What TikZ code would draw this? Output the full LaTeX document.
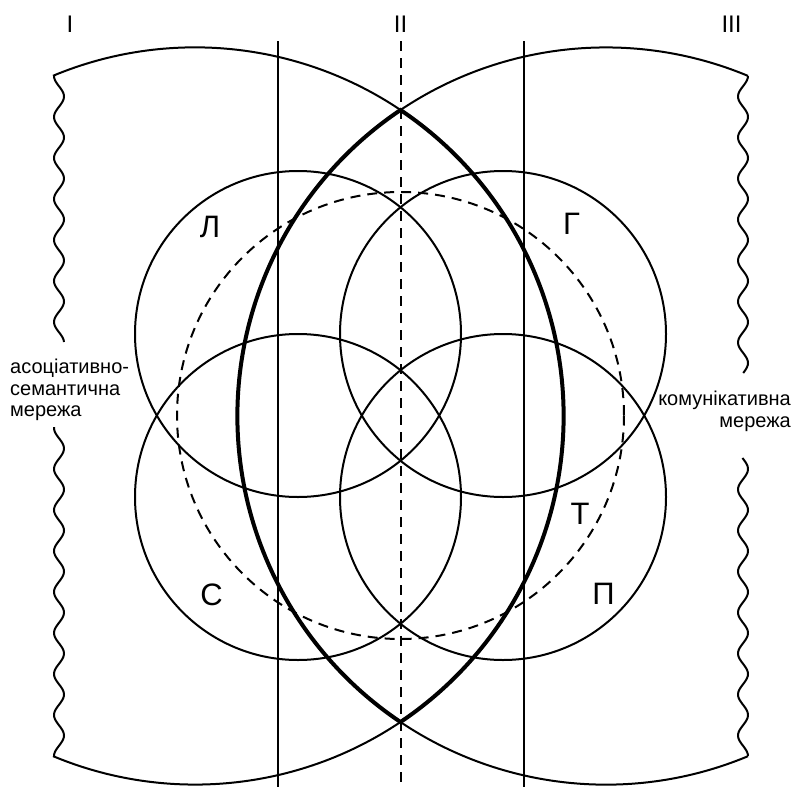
\documentclass[tikz,border=0pt]{standalone}
\usepackage{fontspec}
\setmainfont{Liberation Sans}
\begin{document}
\begin{tikzpicture}[x=1pt,y=-1pt,
  thinline/.style={line width=2pt},
  thickline/.style={line width=4pt},
  dashline/.style={line width=2pt,dash pattern=on 10pt off 7pt},
  zonelabel/.style={inner sep=0pt,font=\fontsize{24}{28}\selectfont},
  biglabel/.style={inner sep=0pt,font=\fontsize{31}{36}\selectfont},
  nettext/.style={inner sep=0pt,font=\fontsize{20}{21.7}\selectfont}]
\useasboundingbox (0,0) rectangle (795,787);
% centres
\coordinate (BL) at (195,416);
\coordinate (BR) at (606,416);
\coordinate (cL) at (298,334);
\coordinate (cG) at (503,334);
\coordinate (cS) at (298,497);
\coordinate (cP) at (503,497);
\coordinate (cD) at (400.5,415.5);
% vertical lines
\coordinate (v1t) at (278,41);  \coordinate (v1b) at (278,787);
\coordinate (v2t) at (524,41);  \coordinate (v2b) at (524,787);
\coordinate (v3t) at (400.5,41);\coordinate (v3b) at (400.5,787);
\draw[thinline] (v1t) -- (v1b);
\draw[thinline] (v2t) -- (v2b);
\draw[dashline] (v3t) -- (v3b);
% small circles
\draw[thinline] (cL) circle[radius=163];
\draw[thinline] (cG) circle[radius=163];
\draw[thinline] (cS) circle[radius=163];
\draw[thinline] (cP) circle[radius=163];
% dashed circle
\draw[dashline] (cD) circle[radius=223.5];
% big circles, thin outer parts
\coordinate (tipT) at (400.5,110);
\coordinate (tipB) at (400.5,722);
\draw[thinline] (53,75.8) arc[start angle=-112.66, end angle=-56.12, radius=368.6];
\draw[thinline] (tipB) arc[start angle=56.12, end angle=112.66, radius=368.6];
\draw[thinline] (tipT) arc[start angle=-123.88, end angle=-67.34, radius=368.6];
\draw[thinline] (748,756.2) arc[start angle=67.34, end angle=123.88, radius=368.6];
% lens
\draw[thickline] (tipT) arc[start angle=-56.12, end angle=56.12, radius=368.6]
  arc[start angle=123.88, end angle=236.12, radius=368.6] -- cycle;
% wavy borders
\draw[thinline] plot[samples=140, domain=76:342, variable=\t] ({59-5*cos(((\t-76)/41)*360)}, \t);
\draw[thinline] plot[samples=160, domain=427:756, variable=\t] ({59-5*cos(((756-\t)/41)*360)}, \t);
\draw[thinline] plot[samples=150, domain=76:373, variable=\t] ({743+5*cos(((\t-76)/41)*360)}, \t);
\draw[thinline] plot[samples=150, domain=458:756, variable=\t] ({743+5*cos(((756-\t)/41)*360)}, \t);
% labels
\node[zonelabel] (n1) at (70,24.5) {I};
\node[zonelabel] (n2) at (400.5,24.5) {II};
\node[zonelabel] (n3) at (731.5,24.5) {III};
\node[biglabel] (lL) at (210,227) {Л};
\node[biglabel] (lG) at (571.5,224) {Г};
\node[biglabel] (lS) at (211.5,594.5) {С};
\node[biglabel] (lT) at (580,513.5) {Т};
\node[biglabel] (lP) at (603.5,593.5) {П};
\node[nettext,anchor=west,align=left] (netL) at (10,390) {асоціативно-\\семантична\\мережа};
\node[nettext,anchor=east,align=right] (netR) at (791,411) {комунікативна\\мережа};
\end{tikzpicture}
\end{document}
